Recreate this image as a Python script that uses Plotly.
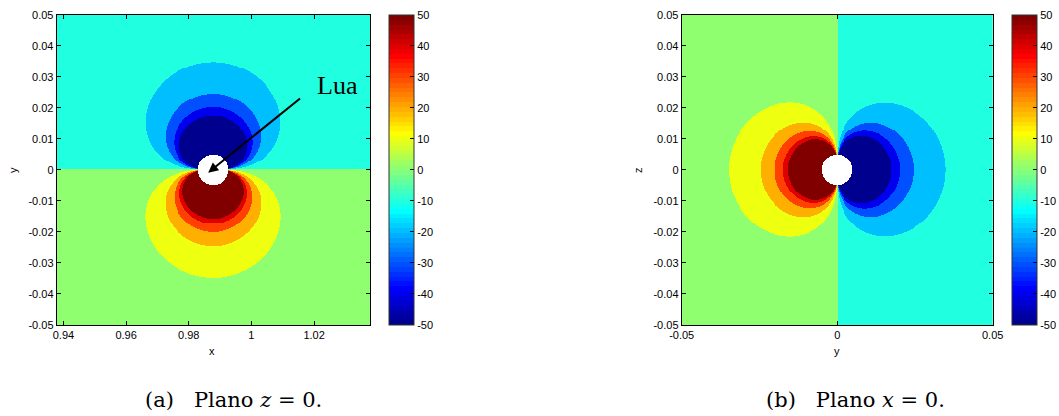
import numpy as np
import plotly.graph_objects as go

# ---------------- values ----------------
MU = 0.01215                      # Moon sits at x = 1 - MU in panel (a)
moon_x = 1 - MU
half_span = 0.05                  # both panels span +-0.05 around the Moon
moon_radius = 0.0049              # white (masked) disc around the Moon

c_levels = [-50, -40, -30, -20, -10, 0, 10, 20, 30, 40, 50]
c_ticktext = ["-50", "-40", "-30", "-20", "-10", "0", "10", "20", "30", "40", "50"]

# filled value inside each contour lobe and the lobe's reach along its axis
neg_fill = [-20, -30, -40, -50]
neg_reach = [0.0347, 0.0245, 0.0202, 0.0175]
neg_background = -10
pos_fill = [10, 20, 30, 40, 50]
pos_reach = [0.0348, 0.0246, 0.0201, 0.0174, 0.0158]
pos_background = 0

xa_tickvals = [0.94, 0.96, 0.98, 1.0, 1.02]
xa_ticktext = ["0.94", "0.96", "0.98", "1", "1.02"]
xb_tickvals = [-0.05, 0.0, 0.05]
xb_ticktext = ["-0.05", "0", "0.05"]
y_tickvals = [0.05, 0.04, 0.03, 0.02, 0.01, 0.0, -0.01, -0.02, -0.03, -0.04, -0.05]
y_ticktext = ["0.05", "0.04", "0.03", "0.02", "0.01", "0", "-0.01", "-0.02",
              "-0.03", "-0.04", "-0.05"]

caption_a = "(a)&nbsp;&nbsp;&nbsp;Plano&nbsp;<i>z</i>&nbsp;=&nbsp;0."
caption_b = "(b)&nbsp;&nbsp;&nbsp;Plano&nbsp;<i>x</i>&nbsp;=&nbsp;0."
label_text = "Lua"

# ---------------- helpers ----------------
N = 321
offs = np.linspace(-half_span, half_span, N)


def lobe_field(h, v):
    """Piecewise-constant contour fill: h is the coordinate across the split."""
    r = np.sqrt(h ** 2 + v ** 2)
    with np.errstate(divide="ignore", invalid="ignore"):
        d = np.sqrt(r ** 3 / np.abs(h))   # axial reach of the contour through the point
    z = np.where(h > 0, neg_background, pos_background).astype(float)
    for fill, reach in zip(neg_fill, neg_reach):
        z = np.where((h > 0) & (d < reach), fill, z)
    for fill, reach in zip(pos_fill, pos_reach):
        z = np.where((h <= 0) & (d < reach), fill, z)
    z[r < moon_radius] = np.nan
    return z


def matlab_jet(m=64):
    n = int(np.ceil(m / 4))
    u = np.concatenate([np.arange(1, n + 1) / n, np.ones(n - 1), np.arange(n, 0, -1) / n])
    g = int(np.ceil(n / 2)) - (1 if m % 4 == 1 else 0) + np.arange(1, len(u) + 1)
    r = g + n
    b = g - n
    R = np.zeros(m); G = np.zeros(m); B = np.zeros(m)
    for arr, idx in ((R, r), (G, g), (B, b)):
        for i, val in zip(idx, u):
            if 1 <= i <= m:
                arr[i - 1] = val
    return [f"rgb({int(round(R[i]*255))},{int(round(G[i]*255))},{int(round(B[i]*255))})"
            for i in range(m)]


jet = matlab_jet(64)
cscale = []
for i, c in enumerate(jet):
    lo = i / 64
    hi = (i + 1) / 64 - 1e-7 if i < 63 else 1.0
    cscale.append([lo, c])
    cscale.append([hi, c])

# grids
DX, DY = np.meshgrid(offs, offs)
z_a = lobe_field(DY, DX)          # panel (a): split across y
z_b = lobe_field(DX, DY)          # panel (b): split across horizontal y

W, H = 1059, 416
ya_dom = [1 - 325 / H, 1 - 14.7 / H]
xa_dom = [56.7 / W, 370 / W]
xb_dom = [681.7 / W, 992.7 / W]

font_tick = dict(family="Liberation Sans, Arial, sans-serif", size=11, color="black")


def cbar(xpx):
    return dict(x=xpx / W, xanchor="left", xpad=0, ypad=0, thickness=25,
                thicknessmode="pixels", len=(325 - 14.7) / H, lenmode="fraction",
                y=1 - 169.85 / H, yanchor="middle", outlinewidth=1, outlinecolor="#333",
                tickvals=c_levels, ticktext=c_ticktext, ticks="inside", ticklen=4,
                tickcolor="black", tickfont=font_tick)


fig = go.Figure()
fig.add_trace(go.Heatmap(x=moon_x + offs, y=offs, z=z_a, zmin=-50, zmax=50,
                         colorscale=cscale, colorbar=cbar(389), xaxis="x", yaxis="y",
                         hoverinfo="skip"))
fig.add_trace(go.Heatmap(x=offs, y=offs, z=z_b, zmin=-50, zmax=50,
                         colorscale=cscale, colorbar=cbar(1012), xaxis="x2", yaxis="y2",
                         hoverinfo="skip"))

ax_common = dict(showgrid=False, zeroline=False, showline=True, linecolor="black",
                 linewidth=1, mirror="ticks", ticks="inside", ticklen=4,
                 tickcolor="black", tickfont=font_tick)

fig.update_layout(
    width=W, height=H, margin=dict(l=0, r=0, t=0, b=0, autoexpand=False),
    paper_bgcolor="white", plot_bgcolor="white", showlegend=False,
    xaxis=dict(domain=xa_dom, range=[moon_x - half_span, moon_x + half_span],
               tickvals=xa_tickvals, ticktext=xa_ticktext, anchor="y", **ax_common),
    yaxis=dict(domain=ya_dom, range=[-half_span, half_span], tickvals=y_tickvals,
               ticktext=y_ticktext, anchor="x", **ax_common),
    xaxis2=dict(domain=xb_dom, range=[-half_span, half_span], tickvals=xb_tickvals,
                ticktext=xb_ticktext, anchor="y2", **ax_common),
    yaxis2=dict(domain=ya_dom, range=[-half_span, half_span], tickvals=y_tickvals,
                ticktext=y_ticktext, anchor="x2", **ax_common),
)

ann_font = dict(family="Liberation Sans, Arial, sans-serif", size=11, color="black")
cap_font = dict(family="DejaVu Serif, serif", size=21, color="black")


def pap(text, xpx, ypx, font, angle=0):
    return dict(text=text, x=xpx / W, y=1 - ypx / H, xref="paper", yref="paper",
                xanchor="center", yanchor="middle", showarrow=False, font=font,
                textangle=angle)


annotations = [
    pap("x", 212, 351, ann_font),
    pap("y", 13, 170, ann_font, -90),
    pap("y", 837, 351, ann_font),
    pap("z", 638, 170, ann_font, -90),
    pap(caption_a, 233, 400, cap_font),
    pap(caption_b, 855, 400, cap_font),
    # "Lua" label and arrow pointing at the Moon
    dict(text=label_text, x=1.0275, y=0.0273, xref="x", yref="y", showarrow=False,
         xanchor="center", yanchor="middle",
         font=dict(family="Liberation Serif, Times New Roman, serif", size=26,
                   color="black")),
    dict(text="", x=0.9862, y=-0.0009, xref="x", yref="y", ax=1.0160, ay=0.0234,
         axref="x", ayref="y", showarrow=True, arrowhead=2, arrowsize=1,
         arrowwidth=2, arrowcolor="black"),
]
fig.update_layout(annotations=annotations)

fig.write_html("out.html",
               config={"displayModeBar": False},
               post_script="document.body.style.margin='0px';"
                           "document.body.style.padding='0px';"
                           "document.body.style.overflow='hidden';")
